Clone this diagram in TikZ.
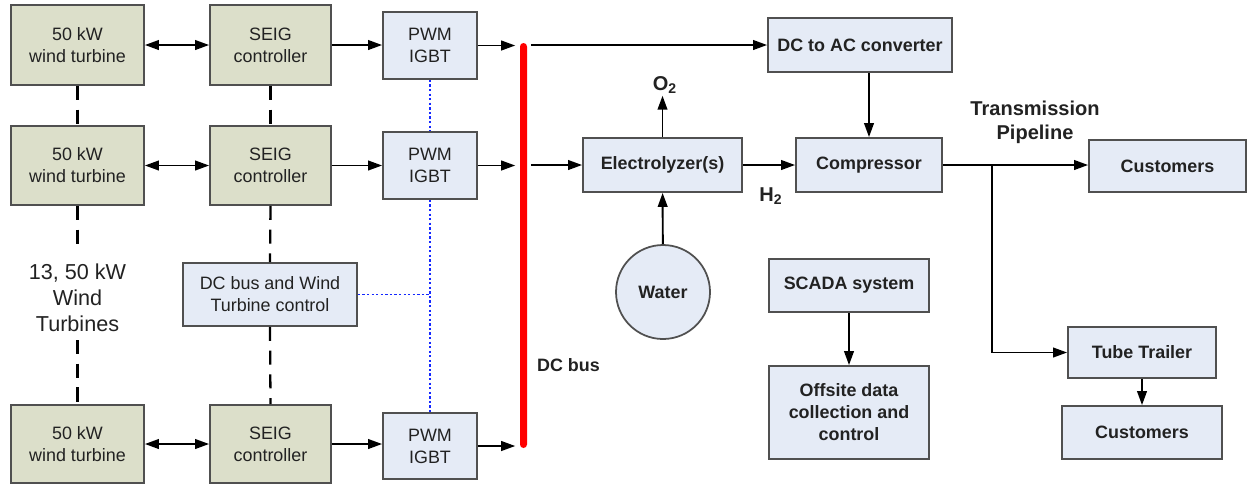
\documentclass[tikz,border=0pt]{standalone}
\usepackage{fontspec}
\setmainfont{Liberation Sans}
\usetikzlibrary{arrows.meta}
\definecolor{olivefill}{HTML}{DCDFCA}
\definecolor{bluefill}{HTML}{E5EBF6}
\definecolor{bordc}{HTML}{505050}
\definecolor{txtc}{HTML}{222222}
\newcommand\bx[7]{\node[#2, minimum width={(#5-#3)*0.02cm}, minimum height={(#6-#4)*0.02cm}] (#1) at ({(#3+#5)/2},{(#4+#6)/2}) {#7};}
\begin{document}
\begin{tikzpicture}[x=0.02cm,y=-0.02cm,
  base/.style={draw=bordc, line width=1pt, align=center, inner sep=0pt, text=txtc,
    font=\fontsize{10.2}{12.5}\selectfont},
  gbox/.style={base, fill=olivefill},
  bbox/.style={base, fill=bluefill},
  bbold/.style={base, fill=bluefill, font=\fontsize{10.2}{12.5}\selectfont\bfseries},
  conn/.style={line width=1.1pt, -{Triangle[length=8pt,width=5.5pt]}},
  biconn/.style={line width=1.1pt, {Triangle[length=8pt,width=5.5pt]}-{Triangle[length=8pt,width=5.5pt]}},
  dsh/.style={line width=1.3pt, dash pattern=on 8pt off 5.5pt},
  dotl/.style={color={rgb,255:red,20;green,40;blue,255}, line width=1.1pt, dash pattern=on 1.3pt off 1.3pt},
  lbl/.style={text=txtc, align=center, inner sep=1pt, font=\fontsize{10.2}{13.5}\selectfont\bfseries},
  biglbl/.style={text=txtc, align=center, inner sep=1pt, font=\fontsize{11.4}{13.5}\selectfont\bfseries}
]
\useasboundingbox (0,0) rectangle (1247,485);

% left column boxes
\bx{w1}{gbox}{11}{5}{144}{85}{50 kW\\wind turbine}
\bx{w2}{gbox}{11}{126}{144}{205}{50 kW\\wind turbine}
\bx{w3}{gbox}{11}{405}{144}{483}{50 kW\\wind turbine}
\bx{s1}{gbox}{210}{5}{331}{85}{SEIG\\controller}
\bx{s2}{gbox}{210}{126}{331}{205}{SEIG\\controller}
\bx{s3}{gbox}{210}{405}{331}{483}{SEIG\\controller}
\bx{p1}{bbox}{383}{12}{477}{79}{PWM\\IGBT}
\bx{p2}{bbox}{383}{132}{477}{199}{PWM\\IGBT}
\bx{p3}{bbox}{383}{413}{477}{479}{PWM\\IGBT}
\bx{dcb}{bbox}{183}{263}{357}{326}{DC bus and Wind\\Turbine control}

\node[text=txtc, align=center, inner sep=0pt, font=\fontsize{12.3}{14.7}\selectfont] (nlab) at (77.5,298) {13, 50 kW\\Wind\\Turbines};
\coordinate (la) at (77.5,248);
\coordinate (lb) at (77.5,340);

% DC bus
\node[fill=red, rounded corners=2pt, minimum width={7*0.02cm}, minimum height={405*0.02cm}, inner sep=0pt] (bus) at (523.5,245.5) {};
\node[lbl, anchor=west] (dcl) at (535,365) {DC bus};

% right side boxes
\bx{dcac}{bbold}{768}{18}{952}{72}{DC to AC converter}
\bx{elec}{bbold}{583}{138}{742}{192}{Electrolyzer(s)}
\bx{comp}{bbold}{796}{138}{942}{192}{Compressor}
\bx{cust1}{bbold}{1089}{140}{1246}{192}{Customers}
\bx{tube}{bbold}{1068}{327}{1216}{378}{Tube Trailer}
\bx{cust2}{bbold}{1062}{406}{1222}{459}{Customers}
\bx{scada}{bbold}{769}{259}{929}{312}{SCADA system}
\bx{off}{bbold}{769}{366}{929}{459}{Offsite data\\collection and\\control}
\node[bbold, circle, minimum size={94*0.02cm}] (water) at (663,292) {Water};

\node[biglbl] (o2) at (665,85) {O\textsubscript{2}};
\node[biglbl] (h2) at (771,196) {H\textsubscript{2}};
\node[biglbl] (tp) at (1035,122) {Transmission\\Pipeline};
\coordinate (br) at (992,165.5);

% left connectors
\foreach \i in {1,2,3}{
  \draw[biconn] (w\i.east) -- (w\i.east -| s\i.west);
  \draw[conn] (s\i.east) -- (s\i.east -| p\i.west);
  \draw[conn, shorten >=2.5pt] (p\i.east) -- (p\i.east -| bus.west);
}
\draw[dsh] (w1.south) -- (w2.north);
\draw[dsh] (w2.south) -- (la);
\draw[dsh] (lb) -- (w3.north);
\draw[dsh] (s1.south) -- (s2.north);
\draw[dsh] (s2.south) -- (dcb.north);
\draw[dsh] (dcb.south) -- (s3.north);
\draw[dotl] (p1.south) -- (p2.north);
\draw[dotl] (p2.south) -- (p3.north);
\draw[dotl] (dcb.east) -- (dcb.east -| p2.south);

% right connectors
\draw[conn, shorten <=2pt] (bus.east |- dcac.west) -- (dcac.west);
\draw[conn, shorten <=2pt] (bus.east |- elec.west) -- (elec.west);
\draw[conn] (elec) -- (comp);
\draw[conn] (comp.north |- dcac.south) -- (comp.north);
\draw[conn] (elec.north) -- (elec.north |- o2.south);
\draw[conn] (water) -- (elec);
\draw[conn] (comp.east) -- (comp.east -| cust1.west);
\draw[conn] (br) |- (tube.west);
\draw[conn] (tube) -- (cust2);
\draw[conn] (scada) -- (off);
\end{tikzpicture}
\end{document}
